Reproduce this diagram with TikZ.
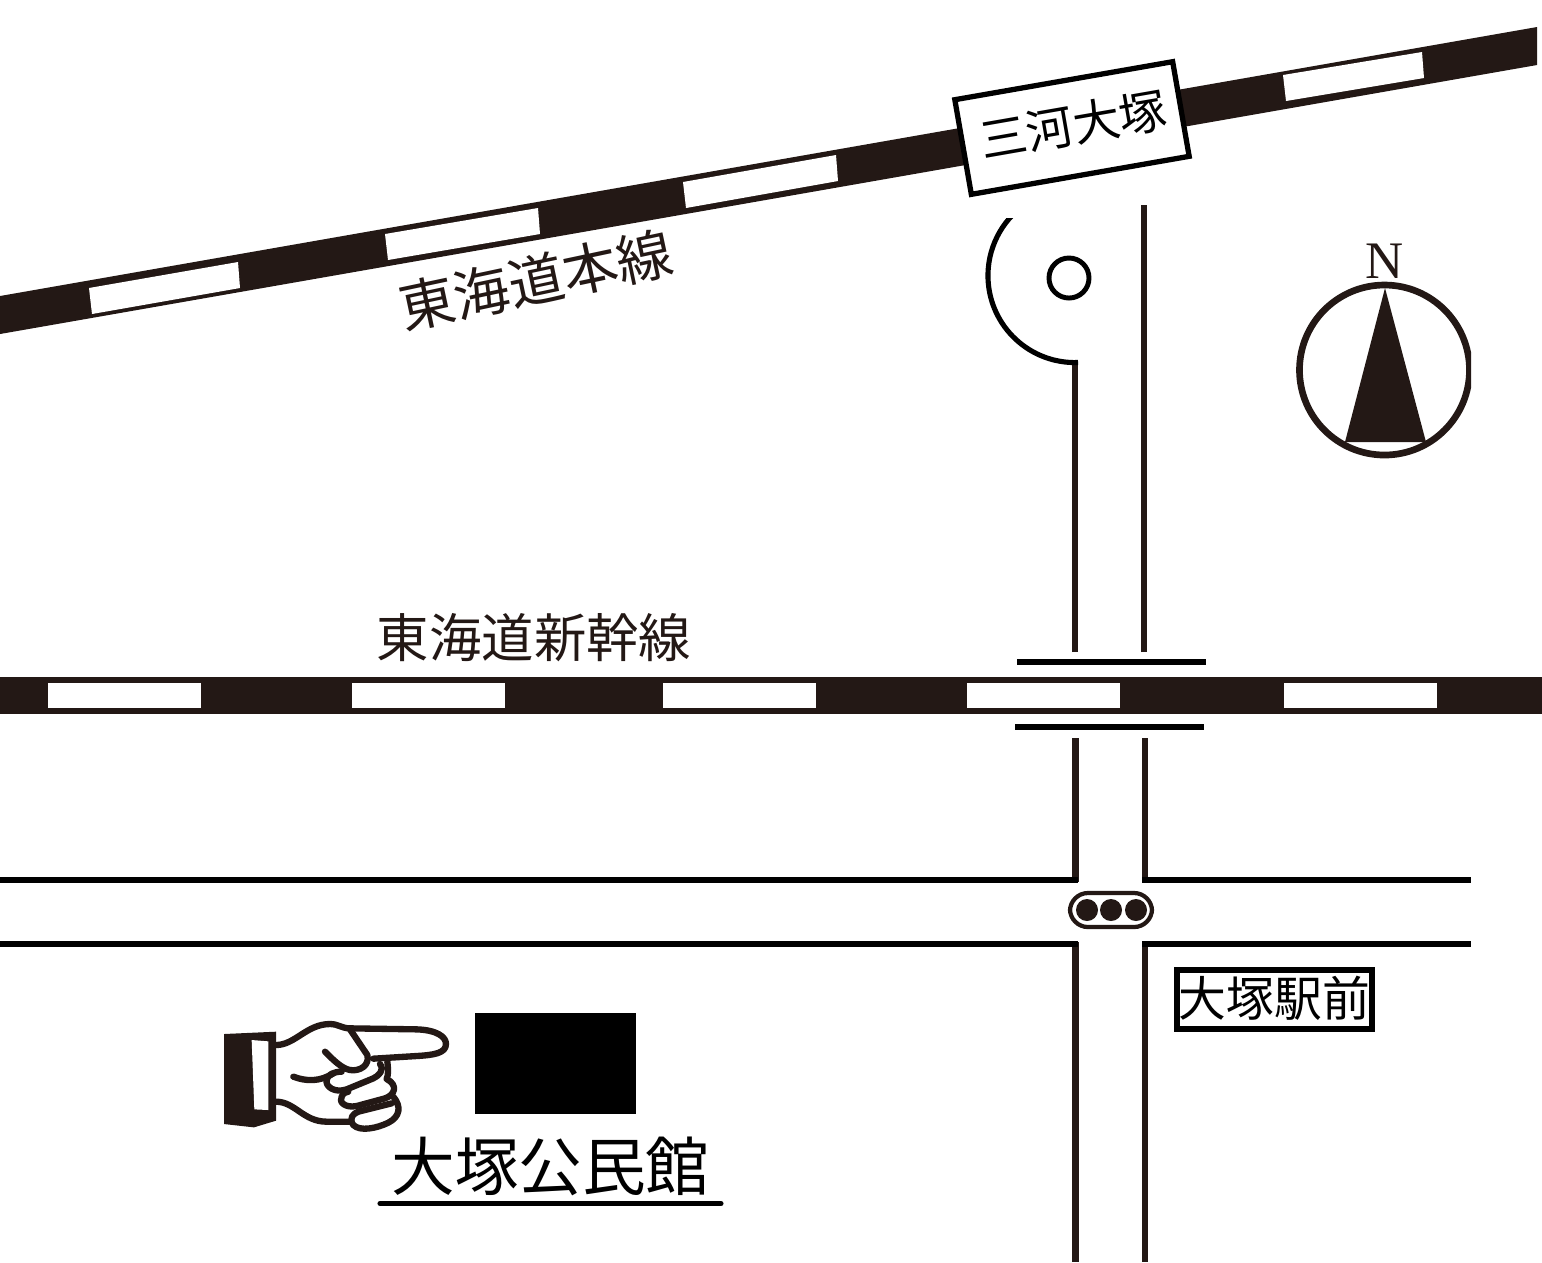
\documentclass[tikz,border=0pt]{standalone}
\usepackage{fontspec}
\setmainfont{Liberation Serif}
\newfontfamily\jp{Noto Sans CJK JP}
\definecolor{sumi}{HTML}{231815}
\tikzset{
  road/.style={draw=sumi, line width=1.8pt},
  thinroad/.style={draw=black, line width=1.45pt},
  finger/.style={draw=sumi, line width=1.8pt, line cap=round, line join=round},
  label/.style={font=\jp, inner sep=0pt, text=black},
}
\begin{document}
\begin{tikzpicture}[x=0.01cm, y=-0.01cm]
 \useasboundingbox (0,0) rectangle (1542,1262);

 % rails
 \fill[sumi] (0,296) -- (1537,27) -- (1537,65) -- (0,334) -- cycle;
 \foreach \xa/\ya/\xb/\yb in {89/288/238/262, 385/234/538/208, 683/182/836/155, 1283/75/1422/52} {
     \fill[white] (\xa,\ya) -- (\xb,\yb) -- (\xb+2,\yb+26) -- (\xa+3,\ya+26) -- cycle;
 }
 \fill[sumi] (0,677) rectangle (1542,714);
 \foreach \i in {48, 352, 663, 967, 1284} {
     \fill[white] (\i,683) rectangle (\i+153,708);
 }

 \node[draw=black, fill=white, line width=1.5pt, rotate=9.9, minimum width=2.21cm, minimum height=0.96cm, inner sep=0pt] (station) at (1072,128) {};
 \node[label, font=\jp\fontsize{13.4pt}{13.4pt}\selectfont, rotate=9.9] (stationname) at (1073,125) {三河大塚};
 \node[label, font=\jp\fontsize{15.8pt}{15.8pt}\selectfont, rotate=12, text=sumi] (oldline) at (536,280) {東海道本線};
 \node[label, font=\jp\fontsize{14.9pt}{14.9pt}\selectfont, text=sumi] (newline) at (534,638) {東海道新幹線};

 % roads, north of the rails
 \draw[road] (1075,652) -- (1075,362);
 \draw[road] (1144,652) -- (1144,205);
 \begin{scope}
   \clip (960,218) rectangle (1090,380);
   \draw[thinroad] (1078,362.5) arc (88:235:87);
 \end{scope}
 \node[draw=black, circle, line width=1.4pt, minimum size=0.4cm, inner sep=0pt] (plaza) at (1069,278) {};

 % bridge
 \draw[thinroad] (1017,662) -- (1206,662);
 \draw[thinroad] (1015,727) -- (1204,727);

 % roads, south of the rails
 \foreach \i in {1075.5, 1145} {
     \draw[road] (\i,738) -- (\i,882);
     \draw[road] (\i,942) -- (\i,1262);
 }
 \foreach \j in {880, 944} {
     \draw[thinroad] (0,\j) -- (1078,\j);
     \draw[thinroad] (1142,\j) -- (1471,\j);
 }

 % signal
 \node[draw=sumi, fill=white, rounded corners=0.18cm, line width=1.2pt, minimum width=0.82cm, minimum height=0.34cm, inner sep=0pt] (signal) at (1111,910) {};
 \foreach \i in {1087, 1111, 1136} {
     \fill[sumi] (\i,910) circle (11);
 }

 \node[draw=black, fill=white, line width=1.5pt, minimum width=1.95cm, minimum height=0.59cm, inner sep=0pt] (busstop) at (1274.5,999.5) {};
 \node[label, font=\jp\fontsize{13.6pt}{13.6pt}\selectfont] (busname) at (1274.5,998) {大塚駅前};

 % north mark
 \begin{scope}
   \clip (1290,270) rectangle (1471,470);
   \draw[draw=sumi, line width=1.9pt] (1384.5,370) circle (85);
 \end{scope}
 \fill[sumi] (1385,288) -- (1426,442) -- (1345,442) -- cycle;
 \node[font=\fontsize{15pt}{15pt}\selectfont, inner sep=0pt, text=sumi] (north) at (1385,261) {N};

 % hall
 \node[fill=black, minimum width=1.61cm, minimum height=1.01cm, inner sep=0pt] (hall) at (555.5,1063.5) {};
 \node[label, font=\jp\fontsize{18.1pt}{18.1pt}\selectfont] (hallname) at (550.5,1166) {大塚公民館};
 \draw[thinroad, line cap=round] (380,1203.5) -- (721,1203.5);

 % hand
 \begin{scope}[shift={(210,1000)}, scale=1/3]
   \fill[sumi] (42,102) -- (198,95) -- (198,362) -- (132,382) -- (42,372) -- cycle;
   \fill[white] (125,120) -- (175,124) -- (175,330) -- (133,328) -- cycle;
   \draw[finger] (198,135) .. controls (255,135) and (290,72) .. (360,72) .. controls (385,72) and (395,85) .. (420,85) -- (620,88) .. controls (680,90) and (708,110) .. (708,132) .. controls (708,160) and (670,165) .. (620,168) -- (490,176);
   \draw[finger] (420,88) -- (472,165) .. controls (480,195) and (450,215) .. (420,210) .. controls (395,205) and (370,180) .. (345,155);
   \draw[finger] (250,230) .. controls (290,245) and (330,245) .. (370,220);
   \draw[finger] (510,192) .. controls (525,210) and (505,228) .. (490,235) -- (410,268) .. controls (375,280) and (345,260) .. (350,240) .. controls (352,225) and (370,215) .. (395,215);
   \draw[finger] (532,185) .. controls (535,210) and (535,225) .. (530,237) .. controls (565,255) and (555,285) .. (525,295) -- (440,318) .. controls (405,325) and (385,305) .. (395,290) .. controls (400,280) and (405,275) .. (415,275);
   \draw[finger] (550,290) .. controls (575,320) and (570,350) .. (535,368) .. controls (500,385) and (450,395) .. (430,375) .. controls (415,355) and (430,340) .. (445,335) -- (545,310);
   \draw[finger] (198,305) .. controls (255,305) and (280,365) .. (350,365) -- (425,365);
 \end{scope}
\end{tikzpicture}
\end{document}
